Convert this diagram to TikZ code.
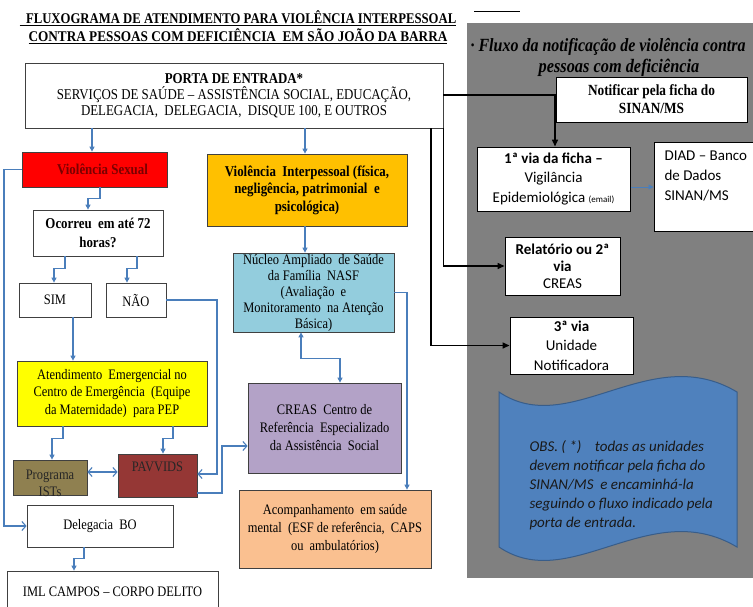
\documentclass[tikz,border=0pt]{standalone}
\usepackage{fontspec}
\setmainfont{Liberation Serif}[FakeStretch=0.86]
\newfontfamily\calfont{Carlito}
\usetikzlibrary{arrows.meta}
\definecolor{cBlue}{HTML}{4A7EBB}
\definecolor{cRed}{HTML}{FF0000}
\definecolor{cDred}{HTML}{7A0000}
\definecolor{cOrange}{HTML}{FFC000}
\definecolor{cYellow}{HTML}{FFFF00}
\definecolor{cOlive}{HTML}{8F8050}
\definecolor{cPav}{HTML}{953735}
\definecolor{cNasf}{HTML}{93CDDD}
\definecolor{cPurple}{HTML}{B3A2C7}
\definecolor{cPeach}{HTML}{FAC090}
\definecolor{cGrey}{HTML}{808080}
\definecolor{cWave}{HTML}{4F81BD}
\definecolor{cWaveB}{HTML}{385D8A}
\tikzset{
  box/.style={draw=black!75, line width=0.8pt, inner sep=0pt, align=center, text=black},
  pbox/.style={box, fill=white, draw=black, line width=1pt},
  cn/.style={draw=cBlue, line width=1.1pt, -{Triangle[length=5pt,width=5pt]}},
  cnb/.style={draw=cBlue, line width=1.1pt, {Triangle[length=5pt,width=5pt]}-{Triangle[length=5pt,width=5pt]}},
  co/.style={draw=cBlue, line width=1.1pt, -{Straight Barb[length=4pt,width=9pt]}},
  cob/.style={draw=cBlue, line width=1.1pt, {Straight Barb[length=4pt,width=9pt]}-{Straight Barb[length=4pt,width=9pt]}},
  bk/.style={draw=black, line width=1.5pt, -{Triangle[length=7pt,width=6pt]}},
  rg/.style={font=\fontsize{14.5}{#1}\selectfont},
  bd/.style={font=\fontsize{15}{#1}\selectfont\bfseries},
  cf/.style={font=\calfont\fontsize{15}{#1}\selectfont},
}
\newcommand{\flowbox}[7]{\node[box,#6,minimum width={#4pt-#2pt},minimum height={#5pt-#3pt}] (#1) at ({(#2+#4)/2},{(#3+#5)/2}) {#7};}
\begin{document}
\begin{tikzpicture}[x=1pt,y=-1pt]
\useasboundingbox (0,0) rectangle (753,606);
\fill[white] (0,0) rectangle (753,606);
% grey panel
\fill[cGrey] (467,23) rectangle (753,578);
\draw[black, line width=0.8pt] (474,11) -- (520,11);
% title
\node[align=center, font=\fontsize{14.8}{18}\selectfont\bfseries] (title) at (238,27)
  {\underline{\ \ FLUXOGRAMA\ DE ATENDIMENTO PARA VIOLÊNCIA\ INTERPESSOAL}\\
   \scalebox{1.04}[1]{\underline{CONTRA PESSOAS COM DEFICIÊNCIA\ \ EM SÃO JOÃO DA BARRA}}};
% left / middle boxes
\flowbox{porta}{25}{63}{443}{128}{fill=white, font=\fontsize{15}{16}\selectfont}{\textbf{PORTA DE ENTRADA*}\\SERVIÇOS DE SAÚDE – ASSISTÊNCIA SOCIAL, EDUCAÇÃO,\\DELEGACIA,\ \ DELEGACIA,\ \ DISQUE 100, E OUTROS}
\flowbox{vsex}{22}{152}{167}{187}{fill=cRed, bd=18, text=cDred}{\hspace{16pt}Violência Sexual}
\flowbox{ocorreu}{33}{210}{163}{256}{fill=white, bd=19}{Ocorreu\ \ em até 72\\horas?}
\flowbox{sim}{19}{283}{91}{317}{fill=white, rg=17}{SIM}
\flowbox{nao}{106}{283}{166}{317}{fill=white, rg=17}{NÃO}
\flowbox{atend}{17}{361}{207}{426}{fill=cYellow, rg=17.5}{Atendimento\ \ Emergencial no\\Centro de Emergência\ \ (Equipe\\da Maternidade)\ \ para PEP}
\flowbox{prog}{13}{460}{87}{495}{fill=cOlive}{}
\node[align=center, rg=17, text=black!85] (progtxt) at (50,483) {Programa\\ISTs};
\flowbox{pav}{118}{454}{197}{497}{fill=cPav}{}
\node[rg=17, text=black!85] (pavtxt) at (157.5,467) {PAVVIDS};
\flowbox{deleg}{27}{505}{173}{547}{fill=white, rg=17}{Delegacia\ \ BO}
\flowbox{iml}{7}{571}{218}{612}{fill=white, rg=17}{IML CAMPOS – CORPO DELITO}
\flowbox{vint}{207}{154}{407}{226}{fill=cOrange, bd=17.5}{Violência\ \ Interpessoal (física,\\negligência, patrimonial\ \ e\\psicológica)}
\flowbox{nasf}{233}{253}{394}{332}{fill=cNasf, rg=16}{Núcleo Ampliado\ \ de Saúde\\da Família\ \ NASF\\(Avaliação\ \ e\\Monitoramento\ \ na Atenção\\Básica)}
\flowbox{creas}{248}{383}{401}{473}{fill=cPurple, rg=18}{CREAS\ \ Centro de\\Referência\ \ Especializado\\da Assistência\ \ Social}
\flowbox{acomp}{239}{490}{431}{568}{fill=cPeach, rg=18}{Acompanhamento\ \ em saúde\\mental\ \ (ESF de referência,\ \ CAPS\\ou\ \ ambulatórios)}
% panel texts and boxes
\node[anchor=west, font=\fontsize{18.6}{21}\selectfont\bfseries\itshape] (pt1) at (467,47) {· Fluxo da notificação de violência contra};
\node[font=\fontsize{19}{21}\selectfont\bfseries\itshape] (pt2) at (619,68) {pessoas com deficiência};
\flowbox{notif}{556}{77}{747}{122}{pbox, font=\fontsize{15.5}{18}\selectfont\bfseries}{Notificar pela ficha do\\SINAN/MS}
\flowbox{via1}{477}{147}{630}{211}{pbox, cf=19.5}{\textbf{1ª via da ficha –}\\Vigilância\\Epidemiológica {\fontsize{9}{9}\selectfont(email)}}
\flowbox{diad}{654}{142}{760}{231}{pbox}{}
\node[anchor=west, align=left, cf=20] (diadtxt) at (661,176) {DIAD – Banco\\de Dados\\SINAN/MS};
\flowbox{rel}{505}{237}{620}{295}{pbox, cf=17}{\textbf{Relatório ou 2ª}\\\textbf{via}\\CREAS}
\flowbox{via3}{510}{317}{633}{374}{pbox, cf=19.5}{\textbf{3ª via}\\Unidade\\Notificadora}
\draw[fill=cWave, draw=cWaveB, line width=1pt] (499,392) .. controls (570,440) and (650,340) .. (737,392) -- (737,547) .. controls (650,495) and (570,595) .. (499,547) -- cycle;
\node[anchor=west, align=left, font=\calfont\fontsize{15}{19}\selectfont\itshape, text=black!90] (obs) at (526,485)
  {OBS. ( *)\ \ \ \ todas as unidades\\devem notificar pela ficha do\\SINAN/MS\ \ e encaminhá-la\\seguindo o fluxo indicado pela\\porta de entrada.};
% helper coordinates
\foreach \n/\v in {92/92,305/305,100/100,88/88,65/65,54/54,137/137,127/127,73/73,63/63,52/52,173/173,163/163,217/217,222/222,4/4,84/84,74/74,301/301,340/340,407/407,555/555,431/431}
  {\coordinate (k\n) at (\v,0);}
\coordinate (y95) at (0,95);
\coordinate (y187) at (0,187);
\coordinate (y474) at (0,474);
\coordinate (y472) at (0,472);
\coordinate (y493) at (0,493);
\coordinate (y446) at (0,446);
% blue connectors
\draw[cn] (porta.south -| k92) -- (vsex.north -| k92);
\draw[cn] (porta.south -| k305) -- (vint.north -| k305);
\draw[cn] (vsex.south -| k100) -- ++(0,11) -| (ocorreu.north -| k88);
\draw[cn] (ocorreu.south -| k65) -- ++(0,12) -| (sim.north -| k54);
\draw[cn] (ocorreu.south -| k137) -- ++(0,12) -| (nao.north -| k127);
\draw[cn] (sim.south -| k73) -- (atend.north -| k73);
\draw[cn] (atend.south -| k63) -- ++(0,12) -| (prog.north -| k52);
\draw[cn] (atend.south -| k173) -- ++(0,12) -| (pav.north -| k163);
\draw[co] (nao.east) -| (k217 |- y474) -- (pav.east |- y474);
\draw[cob] (prog.east |- y472) -- (pav.west |- y472);
\draw[co] (pav.east |- y493) -| (k222 |- y446) -- (creas.west |- y446);
\draw[co] (vsex.west) -| (k4 |- deleg.west) -- (deleg.west);
\draw[cn] (deleg.south -| k84) -- ++(0,11) -| (iml.north -| k74);
\draw[cn] (vint.south -| k305) -- (nasf.north -| k305);
\draw[cnb] (nasf.south -| k301) -- ++(0,26) -| (creas.north -| k340);
\draw[cn] (nasf.east) -| (acomp.north -| k407);
\draw[cn, line width=0.8pt] (via1.east |- y187) -- (diad.west |- y187);
% black connectors
\draw[bk] (porta.east |- y95) -| (via1.north -| k555);
\draw[bk] (porta.south east) |- (rel.west);
\draw[bk] (porta.south -| k431) |- (via3.west);
\end{tikzpicture}
\end{document}
